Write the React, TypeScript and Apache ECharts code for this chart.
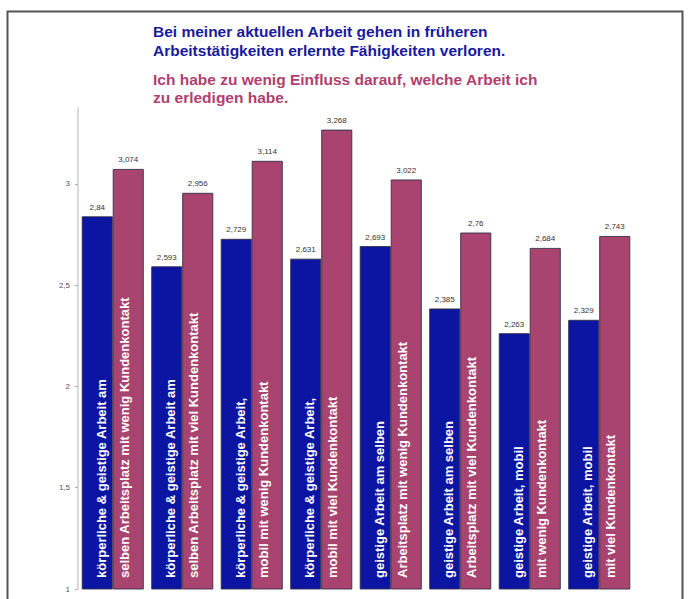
import React, { useEffect, useRef } from "react";
import * as echarts from "echarts";

const categories = ["G1", "G2", "G3", "G4", "G5", "G6", "G7", "G8"];
const blueValues = [2.84, 2.593, 2.729, 2.631, 2.693, 2.385, 2.263, 2.329];
const pinkValues = [3.074, 2.956, 3.114, 3.268, 3.022, 2.76, 2.684, 2.743];
const blueLines = [
  "körperliche & geistige Arbeit am",
  "körperliche & geistige Arbeit am",
  "körperliche & geistige Arbeit,",
  "körperliche & geistige Arbeit,",
  "geistige Arbeit am selben",
  "geistige Arbeit am selben",
  "geistige Arbeit, mobil",
  "geistige Arbeit, mobil",
];
const pinkLines = [
  "selben Arbeitsplatz mit wenig Kundenkontakt",
  "selben Arbeitsplatz mit viel Kundenkontakt",
  "mobil mit wenig Kundenkontakt",
  "mobil mit viel Kundenkontakt",
  "Arbeitsplatz mit wenig Kundenkontakt",
  "Arbeitsplatz mit viel Kundenkontakt",
  "mit wenig Kundenkontakt",
  "mit viel Kundenkontakt",
];
const yTicks = [1, 1.5, 2, 2.5, 3];
const blueTitle = "Bei meiner aktuellen Arbeit gehen in früheren\nArbeitstätigkeiten erlernte Fähigkeiten verloren.";
const pinkTitle = "Ich habe zu wenig Einfluss darauf, welche Arbeit ich\nzu erledigen habe.";

const FONT = "'Liberation Sans', Arial, sans-serif";
const BLUE = "#0c14a2";
const PINK = "#a8446f";

const fmt = (v: number) => String(v).replace(".", ",");

export default function App() {
  const ref = useRef<HTMLDivElement>(null);
  useEffect(() => {
    if (!ref.current) return;
    const chart = echarts.init(ref.current, null, { renderer: "svg" });
    const textSeries = (lines: string[], values: number[], dx: number) => ({
      type: "bar",
      xAxisIndex: 1,
      barGap: 0,
      barCategoryGap: "10.8%",
      silent: true,
      itemStyle: { color: "transparent" },
      data: values.map((v, i) => ({
        value: v,
        label: {
          show: true,
          formatter: lines[i],
        },
      })),
      label: {
        show: true,
        position: "insideBottom",
        rotate: 90,
        align: "left",
        verticalAlign: "middle",
        distance: 11,
        offset: [0, dx],
        color: "#ffffff",
        fontFamily: FONT,
        fontWeight: "bold",
        fontSize: 13,
      },
      z: 5,
    });
    const valueSeries = (values: number[], color: string) => ({
      type: "bar",
      xAxisIndex: 0,
      barGap: 0,
      barCategoryGap: "10.8%",
      data: values,
      itemStyle: { color, borderColor: "#34304a", borderWidth: 0.9 },
      label: {
        show: true,
        position: "top",
        distance: 5,
        formatter: (p: any) => fmt(p.value),
        color: "#333",
        fontFamily: FONT,
        fontSize: 8,
      },
    });
    chart.setOption({
      animation: false,
      backgroundColor: "#ffffff",
      title: [
        {
          text: blueTitle,
          left: 153,
          top: 22,
          textStyle: { color: "#1a1a9c", fontFamily: FONT, fontWeight: "bold", fontSize: 15.5, lineHeight: 19 },
          padding: 0,
        },
        {
          text: pinkTitle,
          left: 153,
          top: 70,
          textStyle: { color: "#b0406e", fontFamily: FONT, fontWeight: "bold", fontSize: 15.5, lineHeight: 18 },
          padding: 0,
        },
      ],
      graphic: [
        {
          type: "rect",
          shape: { x: 7.5, y: 11.5, width: 675, height: 620 },
          style: { fill: "none", stroke: "#555", lineWidth: 2 },
          silent: true,
          z: -10,
        },
      ],
      grid: { left: 78, right: 54, top: 108, bottom: 10, containLabel: false },
      xAxis: [
        {
          type: "category",
          data: categories,
          axisLine: { show: false },
          axisTick: { show: false },
          axisLabel: { show: false },
        },
        {
          type: "category",
          data: categories,
          show: false,
        },
      ],
      yAxis: {
        type: "value",
        min: 1,
        max: 3.375,
        splitLine: { show: false },
        axisLine: { show: true, lineStyle: { color: "#cfcfcf", width: 1.5 } },
        axisTick: { show: true, length: 3, lineStyle: { color: "#aaa" }, customValues: yTicks },
        axisLabel: {
          color: "#555",
          fontFamily: FONT,
          fontSize: 8,
          margin: 8,
          customValues: yTicks,
          formatter: (v: number) => fmt(v),
        },
      },
      series: [
        valueSeries(blueValues, BLUE),
        valueSeries(pinkValues, PINK),
        textSeries(blueLines, blueValues, 4),
        textSeries(pinkLines, pinkValues, -4),
      ],
    });
    return () => chart.dispose();
  }, []);
  return <div ref={ref} style={{ width: 688, height: 599, position: "absolute", left: 0, top: 0 }} />;
}
